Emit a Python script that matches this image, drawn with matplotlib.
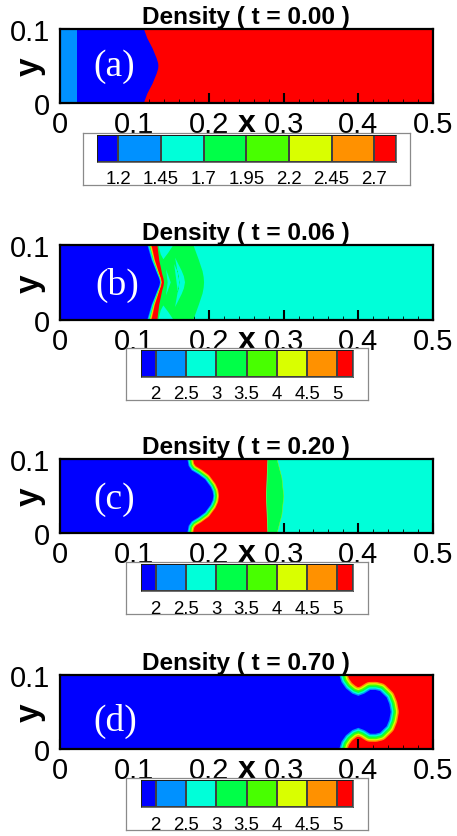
import numpy as np
import matplotlib
matplotlib.use('Agg')
import matplotlib.pyplot as plt
from matplotlib.colors import ListedColormap

W = 457
H = 837
plt.rcParams['font.family'] = ['Liberation Sans', 'DejaVu Sans']

levelColors = ['#0000ff', '#0091ff', '#00ffd9', '#00ff48', '#48ff00', '#d9ff00', '#ff9100', '#ff0000']
titles = ['Density ( t = 0.00 )', 'Density ( t = 0.06 )', 'Density ( t = 0.20 )', 'Density ( t = 0.70 )']
panelNames = ['(a)', '(b)', '(c)', '(d)']
xTicks = [0, 0.1, 0.2, 0.3, 0.4, 0.5]
xTickLabels = ['0', '0.1', '0.2', '0.3', '0.4', '0.5']
yTickLabels = ['0', '0.1']

barLabelsA = ['1.2', '1.45', '1.7', '1.95', '2.2', '2.45', '2.7']
barValuesA = [1.2, 1.45, 1.7, 1.95, 2.2, 2.45, 2.7]
barEdgesA = [1.075, 1.2, 1.45, 1.7, 1.95, 2.2, 2.45, 2.7, 2.825]
barLabels = ['2', '2.5', '3', '3.5', '4', '4.5', '5']
barValues = [2, 2.5, 3, 3.5, 4, 4.5, 5]
barEdges = [1.75, 2, 2.5, 3, 3.5, 4, 4.5, 5, 5.25]

# panel a
stripA = 0.0232
frontYA = [0, 0.0125, 0.026, 0.0395, 0.046, 0.05, 0.054, 0.0605, 0.074, 0.0875, 0.1]
frontXA = [0.113, 0.1175, 0.1245, 0.130, 0.132, 0.1324, 0.132, 0.130, 0.1245, 0.1175, 0.113]

# panel b
frontYB = [0, 0.02, 0.039, 0.045, 0.05, 0.055, 0.061, 0.08, 0.1]
frontLeftB = [0.1176, 0.1234, 0.131, 0.1335, 0.1346, 0.1335, 0.131, 0.1234, 0.1176]
frontRightB = [0.131, 0.1335, 0.1375, 0.1392, 0.1399, 0.1392, 0.1375, 0.1335, 0.131]
arcYB = [0, 0.02, 0.035, 0.043, 0.05, 0.057, 0.065, 0.08, 0.1]
arcXB = [0.1792, 0.1865, 0.1915, 0.193, 0.1935, 0.193, 0.1915, 0.1865, 0.1792]
bigLensX = [0.1547, 0.1635, 0.1665, 0.168, 0.1605, 0.1598, 0.1585, 0.1535]
bigLensY = [0.0831, 0.0656, 0.058, 0.05, 0.05, 0.057, 0.0634, 0.0746]
smallLensX = [0.1426, 0.1489, 0.1448]
smallLensY = [0.0675, 0.05, 0.05]
cornerX = [0.1323, 0.1524, 0.1457, 0.139, 0.1355]
cornerY = [0.1, 0.1, 0.0898, 0.0809, 0.0875]

# panel c
frontXC = [0.1711, 0.1729, 0.1769, 0.1858, 0.1948, 0.2023, 0.205, 0.2059]
frontYC = [0.1, 0.0902, 0.0844, 0.079, 0.0723, 0.0621, 0.056, 0.05]
shockYC = [0, 0.025, 0.05, 0.075, 0.1]
shockLeftC = [0.2785, 0.2775, 0.2765, 0.2775, 0.2785]
shockRightC = [0.2905, 0.297, 0.2995, 0.297, 0.2905]

# panel d
frontXD = [0.3745, 0.3775, 0.3835, 0.392, 0.400, 0.408, 0.4157, 0.423, 0.429, 0.438, 0.4415, 0.4434]
frontYD = [0.1, 0.090, 0.0815, 0.0745, 0.0715, 0.0745, 0.0794, 0.0795, 0.078, 0.0692, 0.0605, 0.05]

namePosX = [0.146, 0.154, 0.146, 0.149]
namePosY = [0.5, 0.47, 0.46, 0.38]


def pixelAxes(left, top, right, bottom):
  return fig.add_axes([left / W, 1 - bottom / H, (right - left) / W, (bottom - top) / H])


def mirrored(xs, ys):
  return list(xs) + list(xs[-2::-1]), list(ys) + [0.1 - v for v in ys[-2::-1]]


def bubble(ax, xs, ys, stepPx):
  # blue region with the transition bands stroked around its edge
  polyX = [0] + list(xs) + [0]
  polyY = [ys[0]] + list(ys) + [ys[-1]]
  for k in range(6, 0, -1):
    ax.fill(polyX, polyY, facecolor=levelColors[k], edgecolor=levelColors[k],
            linewidth=2 * k * stepPx * 0.72, joinstyle='round', zorder=2)
  ax.fill(polyX, polyY, facecolor=levelColors[0], edgecolor='none', zorder=2)


def panel(top, bottom, index, background):
  ax = pixelAxes(59.5, top, 433, bottom)
  ax.set_facecolor(background)
  ax.set_xlim(0, 0.5)
  ax.set_ylim(0, 0.1)
  ax.set_xticks(xTicks, xTickLabels)
  ax.set_yticks([0, 0.1], yTickLabels)
  ax.set_xticks(np.arange(0, 0.5, 0.02), minor=True)
  ax.set_yticks(np.arange(0, 0.1, 0.02), minor=True)
  ax.tick_params(axis='both', which='major', direction='in', length=7, width=1.5, labelsize=21, zorder=5)
  ax.tick_params(axis='x', which='major', pad=5)
  ax.tick_params(axis='y', which='major', pad=7)
  ax.tick_params(axis='both', which='minor', direction='in', length=3, width=0.6)
  for s in ax.spines.values():
    s.set_linewidth(1.6)
    s.set_zorder(6)
  ax.set_title(titles[index], fontsize=17.6, fontweight='bold', pad=4)
  ax.set_xlabel('x', fontsize=23, fontweight='bold', va='baseline')
  ax.xaxis.set_label_coords(0.5, -0.38)
  ax.set_ylabel('y', fontsize=24, fontweight='bold', va='baseline')
  ax.yaxis.set_label_coords(-0.056, 0.5)
  ax.text(namePosX[index], namePosY[index], panelNames[index], transform=ax.transAxes, ha='center', va='center',
          color='white', fontsize=27, family='Liberation Serif', zorder=4)
  return ax


def colorBar(boxTop, left, right, barLeft, barRight, edges, values, labels):
  box = pixelAxes(left, boxTop, right, boxTop + 52)
  box.set_xticks([])
  box.set_yticks([])
  for s in box.spines.values():
    s.set_edgecolor('#8a8a8a')
    s.set_linewidth(0.9)
  bar = pixelAxes(barLeft, boxTop + 2, barRight, boxTop + 29)
  bar.pcolormesh(edges, [0, 1], np.arange(8).reshape(1, 8), cmap=ListedColormap(levelColors),
                 edgecolors='#404040', linewidth=0.3)
  bar.set_yticks([])
  bar.set_xticks(values, labels)
  bar.tick_params(axis='x', length=0, labelsize=13.4, pad=6)
  for s in bar.spines.values():
    s.set_linewidth(0.4)


fig = plt.figure(figsize=(W / 100, H / 100), dpi=100)

# (a)
ax = panel(30, 104, 0, levelColors[7])
ax.fill_betweenx(frontYA, 0, frontXA, facecolor=levelColors[0], edgecolor='none', zorder=2)
ax.axvspan(0, stripA, color=levelColors[1], lw=0, zorder=2)
colorBar(133.5, 82.5, 410, 97, 395.5, barEdgesA, barValuesA, barLabelsA)

# (b)
ax = panel(246, 320.7, 1, levelColors[2])
ax.fill_betweenx(arcYB, 0.12, arcXB, facecolor=levelColors[3], edgecolor='none', zorder=2)
for lensX, lensY, n in [(bigLensX, bigLensY, 4), (smallLensX, smallLensY, 2)]:
  mx, my = mirrored(lensX[:n], lensY[:n])
  inner = list(lensX[n:])
  innerY = list(lensY[n:])
  ax.fill(mx + inner + inner[-2::-1], my + innerY + [0.1 - v for v in innerY[-2::-1]],
          facecolor=levelColors[2], edgecolor='none', zorder=2)
ax.fill(cornerX, cornerY, facecolor=levelColors[2], edgecolor='none', zorder=2)
ax.fill(cornerX, [0.1 - v for v in cornerY], facecolor=levelColors[2], edgecolor='none', zorder=2)
left = np.array(frontLeftB)
right = np.array(frontRightB)
fractions = [1.0, 0.42, 0.34, 0.26, 0.18, 0.09]
bandColors = [levelColors[7], levelColors[6], levelColors[5], levelColors[3], levelColors[2], levelColors[1]]
for f, c in zip(fractions, bandColors):
  ax.fill_betweenx(frontYB, 0.1, left + f * (right - left), facecolor=c, edgecolor='none', zorder=3)
ax.fill_betweenx(frontYB, 0, left, facecolor=levelColors[0], edgecolor='none', zorder=3)
colorBar(349, 125.5, 367.5, 140.5, 352.5, barEdges, barValues, barLabels)

# (c)
ax = panel(459.7, 534, 2, levelColors[2])
ax.fill_betweenx(shockYC, 0.1, shockLeftC, facecolor=levelColors[7], edgecolor='none', zorder=2)
ax.fill_betweenx(shockYC, shockLeftC, shockRightC, facecolor=levelColors[3], edgecolor='#b0f000', linewidth=0.3, zorder=2)
cx, cy = mirrored(frontXC, frontYC)
bubble(ax, cx, cy, 0.95)
colorBar(563.3, 125.5, 367.5, 140.5, 352.5, barEdges, barValues, barLabels)

# (d)
ax = panel(675.7, 750, 3, levelColors[7])
dx, dy = mirrored(frontXD, frontYD)
bubble(ax, dx, dy, 1.35)
colorBar(779.3, 125.5, 367.5, 140.5, 352.5, barEdges, barValues, barLabels)

fig.savefig('out.png', dpi=100)
